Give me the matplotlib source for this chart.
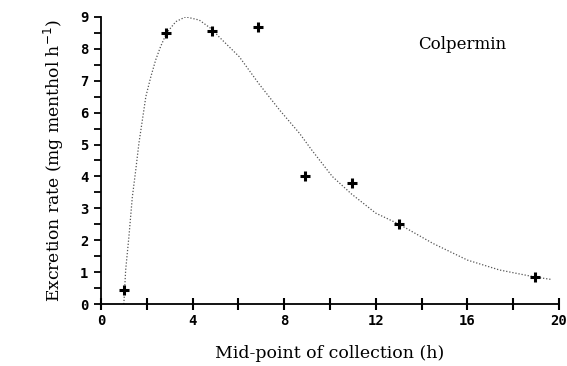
import matplotlib
matplotlib.use("Agg")
import matplotlib.pyplot as plt
from matplotlib.ticker import MultipleLocator

# Observed data points
time_h = [1.0, 2.85, 4.86, 6.87, 8.93, 10.94, 13.0, 18.95]
rate = [0.44, 8.5, 8.56, 8.68, 4.01, 3.79, 2.51, 0.85]

# Fitted curve
curve_x = [1.0, 1.08, 1.22, 1.37, 1.52, 1.66, 1.81, 1.96, 2.17, 2.39, 2.6, 2.87,
           3.27, 3.7, 4.29, 4.87, 5.16, 6.04, 6.9, 7.8, 8.67, 9.2, 10.1, 10.94,
           12.0, 13.0, 14.5, 16.0, 17.4, 18.95, 19.7]
curve_y = [0.0, 1.07, 2.1, 3.35, 4.2, 5.05, 5.77, 6.5, 7.1, 7.65, 8.06, 8.5,
           8.85, 9.0, 8.9, 8.6, 8.37, 7.75, 6.9, 6.08, 5.35, 4.83, 4.0, 3.45,
           2.85, 2.51, 1.9, 1.38, 1.07, 0.85, 0.77]

x_major = [0, 4, 8, 12, 16, 20]
x_labels = ["0", "4", "8", "12", "16", "20"]
y_major = [0, 1, 2, 3, 4, 5, 6, 7, 8, 9]

fig = plt.figure(figsize=(5.67, 3.66), dpi=100)
ax = fig.add_axes([0.178, 0.169, 0.808, 0.785])

ax.plot(curve_x, curve_y, linestyle=(0, (1, 1.5)), color="#555555", linewidth=0.9)
ax.plot(time_h, rate, linestyle="none", marker="+", markersize=7,
        markeredgewidth=2.2, color="black")

ax.set_xlim(0, 20)
ax.set_ylim(0, 9)
for s in ["top", "right"]:
    ax.spines[s].set_visible(False)
for s in ["left", "bottom"]:
    ax.spines[s].set_linewidth(1.3)

ax.set_xticks(x_major)
ax.set_xticklabels(x_labels)
ax.xaxis.set_minor_locator(MultipleLocator(2))
ax.set_yticks(y_major)
ax.yaxis.set_minor_locator(MultipleLocator(0.5))

ax.tick_params(axis="x", which="both", direction="inout", length=8, width=1.5, pad=3)
ax.tick_params(axis="y", which="both", direction="out", length=5, width=1.3, pad=4)
for lab in ax.get_xticklabels() + ax.get_yticklabels():
    lab.set_fontfamily("DejaVu Sans Mono")
    lab.set_fontweight("bold")
    lab.set_fontsize(10)

ax.set_xlabel("Mid-point of collection (h)", family="DejaVu Serif", fontsize=12.5, labelpad=12)
ax.set_ylabel("Excretion rate (mg menthol h$^{-1}$)", family="DejaVu Serif", fontsize=12.3, labelpad=10)

ax.text(15.75, 8.12, "Colpermin", family="DejaVu Serif", fontsize=12,
        ha="center", va="center")

fig.savefig("out.png", dpi=100)
